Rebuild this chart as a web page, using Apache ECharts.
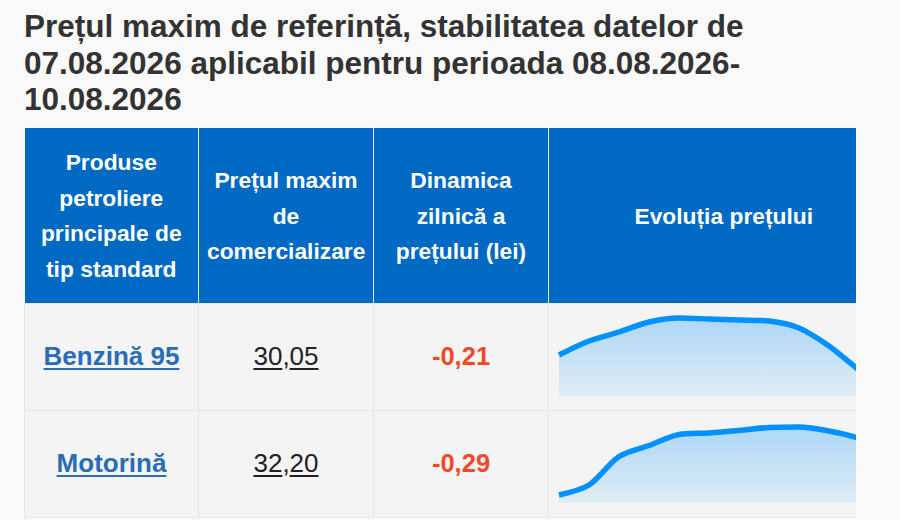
<!DOCTYPE html>
<html>
<head>
<meta charset="utf-8">
<script src="https://cdn.jsdelivr.net/npm/echarts@6/dist/echarts.min.js"></script>
<style>
  html,body{margin:0;padding:0;background:#f9f9f9;width:900px;height:520px;overflow:hidden;}
  body{font-family:Arial,"Liberation Sans",Helvetica,sans-serif;}
  h2{position:absolute;left:24px;top:8px;width:832px;margin:0;font-size:31.5px;line-height:36.6px;font-weight:bold;color:#333;}
  #wrap{position:absolute;left:24px;top:128px;width:832px;height:392px;overflow:hidden;}
  table{border-collapse:collapse;table-layout:fixed;width:874px;}
  th{background:#0069c4;color:#fff;font-size:22.8px;line-height:35.5px;font-weight:bold;height:175px;padding:2px 8px 0 8px;box-sizing:border-box;border-left:1px solid #e6eef7;text-align:center;vertical-align:middle;}
  th:first-child{border-left:none;}
  td{background:#f4f4f4;border:1px solid #e8e8e8;height:107px;padding:0;box-sizing:border-box;text-align:center;vertical-align:middle;font-size:26px;}
  td.name a{color:#2b6cb6;font-weight:bold;text-decoration:underline;text-decoration-thickness:2px;text-underline-offset:3px;}
  td.price{color:#222;}
  td.price u{text-decoration-thickness:1.5px;text-underline-offset:3px;}
  td.dyn{color:#f4472a;font-weight:bold;font-size:25.5px;}
  td.spark{padding:0;}
  .chart{width:350px;height:105px;}
</style>
</head>
<body>
<h2 id="title"></h2>
<div id="wrap">
<table>
  <colgroup><col style="width:174px"><col style="width:175px"><col style="width:175px"><col style="width:350px"></colgroup>
  <thead><tr id="head"></tr></thead>
  <tbody id="body"></tbody>
</table>
</div>
<script>
// ---- data ----
const titleText = "Prețul maxim de referință, stabilitatea datelor de 07.08.2026 aplicabil pentru perioada 08.08.2026-10.08.2026";
const headers = ["Produse petroliere principale de tip standard", "Prețul maxim de comercializare", "Dinamica zilnică a prețului (lei)", "Evoluția prețului"];
const products = ["Benzină 95", "Motorină"];
const prices = ["30,05", "32,20"];
const dynamics = ["-0,21", "-0,29"];
const days = ["28.07","29.07","30.07","31.07","01.08","02.08","03.08","04.08","05.08","06.08","07.08","08.08"];
const benzinaValues = [30.41, 30.55, 30.64, 30.74, 30.78, 30.77, 30.76, 30.75, 30.68, 30.50, 30.26, 30.05];
const motorinaValues = [31.36, 31.56, 32.13, 32.35, 32.57, 32.60, 32.65, 32.71, 32.72, 32.64, 32.49, 32.20];
const seriesList = [benzinaValues, motorinaValues];
const axisRanges = [[30.00, 30.88], [31.20, 32.96]];

// ---- build table ----
document.getElementById('title').textContent = titleText;
const head = document.getElementById('head');
headers.forEach(h => { const th = document.createElement('th'); th.textContent = h; head.appendChild(th); });
const body = document.getElementById('body');
products.forEach((p, i) => {
  const tr = document.createElement('tr');
  const parts = prices[i].split(',');
  tr.innerHTML = '<td class="name"><a href="#">' + p + '</a></td>' +
    '<td class="price"><u>' + parts[0] + '</u>,<u>' + parts[1] + '</u></td>' +
    '<td class="dyn">' + dynamics[i] + '</td>' +
    '<td class="spark"><div class="chart" id="c' + i + '"></div></td>';
  body.appendChild(tr);
});

// ---- sparklines ----
seriesList.forEach((vals, i) => {
  const chart = echarts.init(document.getElementById('c' + i), null, {renderer: 'svg'});
  chart.setOption({
    animation: false,
    grid: {left: 10, right: 10, top: 4, bottom: 13},
    xAxis: {type: 'category', boundaryGap: false, show: false, data: days},
    yAxis: {type: 'value', show: false, min: axisRanges[i][0], max: axisRanges[i][1]},
    series: [{
      type: 'line', data: vals, smooth: 0.3, symbol: 'none',
      lineStyle: {color: '#0091ff', width: 5.5},
      areaStyle: {color: new echarts.graphic.LinearGradient(0, 0, 0, 1, [
        {offset: 0, color: 'rgba(0,145,255,0.42)'},
        {offset: 1, color: 'rgba(0,145,255,0.12)'}
      ])}
    }]
  });
});
</script>
</body>
</html>
